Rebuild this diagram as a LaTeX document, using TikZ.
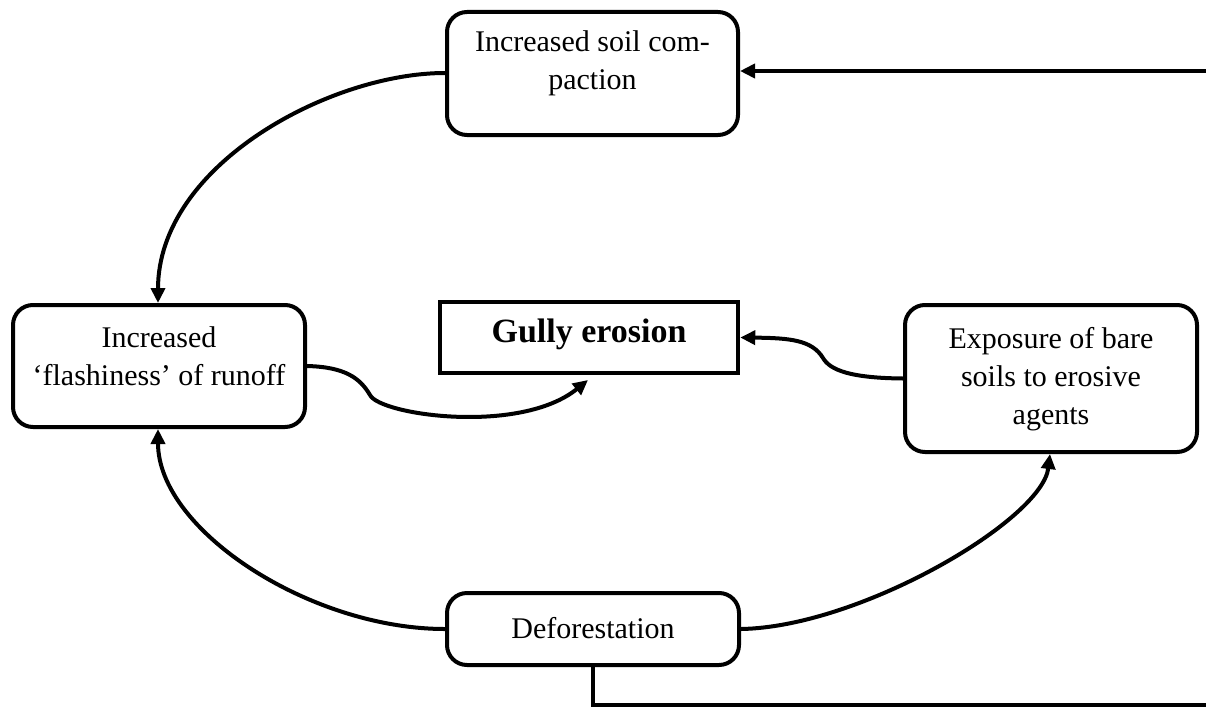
\documentclass[tikz,border=0pt]{standalone}
\usepackage{fontspec}
\setmainfont{Liberation Serif}
\usetikzlibrary{arrows.meta}
\begin{document}
\begin{tikzpicture}[x=1pt,y=-1pt,
  rbox/.style={draw, line width=4pt, rounded corners=20pt, minimum width=#1, inner sep=0pt},
  gbox/.style={draw, line width=4.5pt, inner sep=0pt, minimum width=298pt, minimum height=71pt},
  btext/.style={align=center, font=\fontsize{30}{38}\selectfont, inner sep=0pt},
  conn/.style={line width=4pt, -{Triangle[length=15pt,width=14pt]}},
  plain/.style={line width=4pt}]
\useasboundingbox (0,0) rectangle (1206,709);
\fill[white] (0,0) rectangle (1206,709);
% boxes
\node[rbox=291pt, minimum height=123pt] (comp) at (592.5,73.5) {};
\node[rbox=292pt, minimum height=122pt] (flash) at (159,366) {};
\node[gbox] (gully) at (589,337.5) {};
\node[rbox=292pt, minimum height=147pt] (expo) at (1051,378.5) {};
\node[rbox=292pt, minimum height=72pt] (defo) at (593,629) {};
% texts
\node[btext] (compt) at ([yshift=10pt]comp.center) {Increased soil com-\\paction};
\node[btext] (flasht) at ([yshift=10pt]flash.center) {Increased\\‘flashiness’ of runoff};
\node[font=\fontsize{34}{40}\selectfont\bfseries, inner sep=0pt] (gullyt) at ([yshift=3pt]gully.center) {Gully erosion};
\node[btext] (expot) at ([yshift=-1pt]expo.center) {Exposure of bare\\soils to erosive\\agents};
\node[btext] (defot) at ([yshift=1pt]defo.center) {Deforestation};
% helper coordinates
\coordinate (c1) at (593,705);
\coordinate (c2) at (1210,705);
\coordinate (c3) at (1210,71);
% connectors
\draw[conn] (comp.west |- 0,73) .. controls (330,73) and (158,165) .. (flash.north -| 158,0);
\draw[conn] (defo.west) .. controls (310,629) and (158,530) .. (flash.south -| 158,0);
\draw[conn] (defo.east) .. controls (860,627) and (1042,520) .. (expo.south -| 1050,0);
\draw[conn] (flash.east) .. controls (345,367) and (360,378) .. (370,395)
   .. controls (380,415) and (520,435) .. (588,380);
\draw[conn] (expo.west) .. controls (850,378) and (830,370) .. (823,358)
   .. controls (812,340) and (790,338) .. (gully.east);
\draw[plain] (defo.south) -- (c1) -- (c2) -- (c3);
\draw[conn] (c3) -- (comp.east |- c3);
\end{tikzpicture}
\end{document}
